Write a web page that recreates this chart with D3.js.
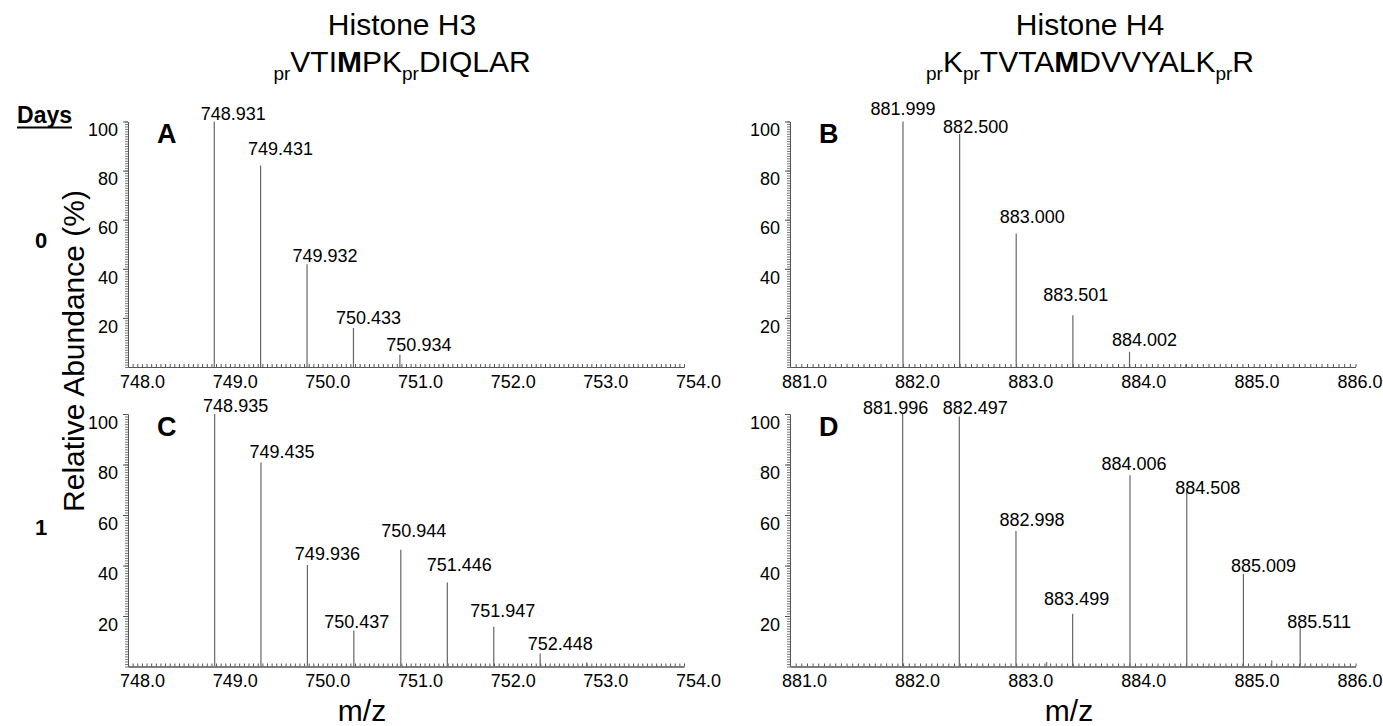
<!DOCTYPE html>
<html><head><meta charset="utf-8">
<script src="https://cdn.jsdelivr.net/npm/d3@7"></script>
<style>
body{margin:0;background:#fff}
svg{display:block}
text{font-family:"Liberation Sans",Arial,Helvetica,sans-serif;fill:#000}
</style>
</head><body>
<svg id="chart" width="1383" height="726"></svg>
<script>
// ---------------- data ----------------
const mzA = [748.931, 749.431, 749.932, 750.433, 750.934];
const abA = [100, 82.1, 41.9, 15.9, 5.0];
const mzB = [881.999, 882.500, 883.000, 883.501, 884.002];
const abB = [100, 94.9, 54.4, 21.1, 6.2];
const mzC = [748.935, 749.435, 749.936, 750.437, 750.944, 751.446, 751.947, 752.448];
const abC = [100, 80.8, 40.2, 14.3, 46.2, 33.3, 15.7, 5.1];
const mzD = [881.996, 882.497, 882.998, 883.499, 884.006, 884.508, 885.009, 885.511];
const abD = [100, 99.0, 53.7, 20.9, 75.7, 69.1, 36.7, 16.0];
// small unlabeled peaks
const minorMzA = [751.40];  const minorAbA = [1.3];
const minorMzB = [884.50];  const minorAbB = [1.2];
const minorMzC = [752.95];  const minorAbC = [1.6];
const minorMzD = [883.27, 885.26]; const minorAbD = [1.8, 2.5];

const xTicksH3 = [748, 749, 750, 751, 752, 753, 754];
const xTicksH4 = [881, 882, 883, 884, 885, 886];
const yTicks = [20, 40, 60, 80, 100];
const panelLetters = ["A", "B", "C", "D"];
const dayLabels = ["0", "1"];

// ---------------- layout (label nudges, not data) ----------------
const labelDx = {
  A: [19, 20, 18, 15, 19],
  B: [0, 16, 16, 3, 15],
  C: [21, 21, 20, 3, 13, 12, 9, 20],
  D: [-7, 16, 16, 4, 4, 21, 20, 19]
};
const labelGap = {
  A: [2, 10, 2, 4, 4],
  B: [7, 1, 10, 14, 6],
  C: [2, 4, 5, 2, 13, 11, 10, 4],
  D: [0, 3, 5, 9, 5, -2, 2, -2]
};
const W = 1383;

const svg = d3.select("#chart");
const axisColor = "#555";
const peakColor = "#666";

const panels = [
  {id:"A", mz:mzA, ab:abA, mmz:minorMzA, mab:minorAbA, dom:[748,754], ticks:xTicksH3, xr:[128,684], yr:[367,121.5]},
  {id:"B", mz:mzB, ab:abB, mmz:minorMzB, mab:minorAbB, dom:[881,886], ticks:xTicksH4, xr:[790,1355.5], yr:[367,121.5]},
  {id:"C", mz:mzC, ab:abC, mmz:minorMzC, mab:minorAbC, dom:[748,754], ticks:xTicksH3, xr:[128,684], yr:[666.5,414]},
  {id:"D", mz:mzD, ab:abD, mmz:minorMzD, mab:minorAbD, dom:[881,886], ticks:xTicksH4, xr:[790,1355.5], yr:[666.5,414]}
];

panels.forEach((p, pi) => {
  const x = d3.scaleLinear().domain(p.dom).range(p.xr);
  const y = d3.scaleLinear().domain([0, 100]).range(p.yr);
  const g = svg.append("g");

  // minor x ticks (upward)
  const minorX = d3.range(p.dom[0], p.dom[1] + 1e-9, 0.05);
  g.append("g").attr("transform", `translate(0,${y(0)})`)
    .call(d3.axisBottom(x).tickValues(minorX).tickSizeInner(-3).tickSizeOuter(0).tickFormat(""))
    .call(a => a.selectAll("line,path").attr("stroke", axisColor));

  // major x axis labels
  g.append("g").attr("transform", `translate(0,${y(0)})`)
    .call(d3.axisBottom(x).tickValues(p.ticks).tickSize(0).tickFormat(d3.format(".1f")))
    .call(a => a.select(".domain").attr("stroke", axisColor))
    .call(a => a.selectAll("text")
      .attr("x", 14).attr("y", 20.5).attr("dy", 0)
      .attr("font-size", 18).attr("font-family", "Liberation Sans, Arial, sans-serif").attr("fill", "#000"))
    .call(a => a.selectAll(".tick").each(function(d) {
      // keep labels inside the picture
      const t = d3.select(this).select("text");
      const tx = x(d) + 14;
      const w = t.node().getComputedTextLength();
      const over = tx + w / 2 - (W - 1);
      if (over > 0) t.attr("x", 14 - over);
    }));

  // minor y ticks (left)
  const minorY = d3.range(0, 101, 1);
  g.append("g").attr("transform", `translate(${x(p.dom[0])},0)`)
    .call(d3.axisLeft(y).tickValues(minorY).tickSizeInner(3).tickSizeOuter(0).tickFormat(""))
    .call(a => a.selectAll("line,path").attr("stroke", axisColor).attr("stroke-width", 0.8));

  // major y labels
  g.append("g").attr("transform", `translate(${x(p.dom[0])},0)`)
    .call(d3.axisLeft(y).tickValues(yTicks).tickSizeInner(5).tickSizeOuter(0).tickPadding(5))
    .call(a => a.selectAll("line,path").attr("stroke", axisColor))
    .call(a => a.selectAll("text")
      .attr("y", 8.5).attr("dy", "0.32em")
      .attr("font-size", 18).attr("font-family", "Liberation Sans, Arial, sans-serif").attr("fill", "#000"));

  // peaks
  const peaks = p.mz.map((m, i) => ({mz:m, ab:p.ab[i], dx:labelDx[p.id][i], gap:labelGap[p.id][i]}));
  const minor = p.mmz.map((m, i) => ({mz:m, ab:p.mab[i]}));
  g.selectAll("line.minorpeak").data(minor).join("line")
    .attr("class", "minorpeak")
    .attr("x1", d => x(d.mz)).attr("x2", d => x(d.mz))
    .attr("y1", y(0)).attr("y2", d => y(d.ab))
    .attr("stroke", peakColor).attr("stroke-width", 1);
  g.selectAll("line.peak").data(peaks).join("line")
    .attr("class", "peak")
    .attr("x1", d => x(d.mz)).attr("x2", d => x(d.mz))
    .attr("y1", y(0)).attr("y2", d => y(d.ab))
    .attr("stroke", peakColor).attr("stroke-width", 1.2);
  g.selectAll("text.plabel").data(peaks).join("text")
    .attr("class", "plabel")
    .attr("x", d => x(d.mz) + d.dx)
    .attr("y", d => y(d.ab) - d.gap)
    .attr("text-anchor", "middle")
    .attr("font-size", 18)
    .text(d => d3.format(".3f")(d.mz));

  // panel letter
  g.append("text")
    .attr("x", x(p.dom[0]) + 29)
    .attr("y", y(100) + 21.5)
    .attr("font-size", 27).attr("font-weight", "bold")
    .text(panelLetters[pi]);
});

// ---------------- titles ----------------
function title(cx, line1, parts) {
  svg.append("text").attr("x", cx).attr("y", 35).attr("text-anchor", "middle")
    .attr("font-size", 30).text(line1);
  const t = svg.append("text").attr("x", cx).attr("y", 72).attr("text-anchor", "middle").attr("font-size", 30);
  let sub = false;
  parts.forEach(pt => {
    const s = t.append("tspan").text(pt.t);
    if (pt.sub) {
      s.attr("font-size", 19).attr("dy", sub ? 0 : 8);
      sub = true;
    } else {
      s.attr("dy", sub ? -8 : 0);
      sub = false;
      if (pt.b) s.attr("font-weight", "bold");
    }
  });
}
title(402, "Histone H3", [
  {t:"pr", sub:true}, {t:"VTI"}, {t:"M", b:true}, {t:"PK"}, {t:"pr", sub:true}, {t:"DIQLAR"}
]);
title(1090, "Histone H4", [
  {t:"pr", sub:true}, {t:"K"}, {t:"pr", sub:true}, {t:"TVTA"}, {t:"M", b:true}, {t:"DVVYALK"}, {t:"pr", sub:true}, {t:"R"}
]);

// ---------------- side labels ----------------
const days = svg.append("text").attr("x", 72).attr("y", 123).attr("text-anchor", "end")
  .attr("font-size", 23).attr("font-weight", "bold").text("Days");
svg.append("line").attr("x1", 72 - days.node().getComputedTextLength()).attr("x2", 72)
  .attr("y1", 127.5).attr("y2", 127.5).attr("stroke", "#000").attr("stroke-width", 2);
svg.append("text").attr("x", 41).attr("y", 248).attr("text-anchor", "middle")
  .attr("font-size", 22).attr("font-weight", "bold").text(dayLabels[0]);
svg.append("text").attr("x", 41).attr("y", 535).attr("text-anchor", "middle")
  .attr("font-size", 22).attr("font-weight", "bold").text(dayLabels[1]);

svg.append("text").attr("transform", "translate(84,351) rotate(-90)")
  .attr("text-anchor", "middle").attr("font-size", 30).text("Relative Abundance (%)");

svg.append("text").attr("x", 362).attr("y", 721).attr("text-anchor", "middle")
  .attr("font-size", 30).text("m/z");
svg.append("text").attr("x", 1069).attr("y", 721).attr("text-anchor", "middle")
  .attr("font-size", 30).text("m/z");
</script>
</body></html>
